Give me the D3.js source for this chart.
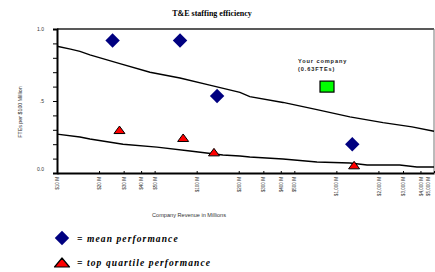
<!DOCTYPE html>
<html>
<head>
<meta charset="utf-8">
<script src="https://cdn.jsdelivr.net/npm/d3@7/dist/d3.min.js"></script>
<style>
  body { margin: 0; background: #fff; }
  svg { display: block; }
</style>
</head>
<body>
<script>
// revenue ticks ($M) shown on the log axis
const revenueTicks = [10, 20, 30, 40, 50, 100, 200, 300, 400, 500, 1000, 2000, 3000, 4000, 5000]
const ftesTicks = [0, 0.1, 0.2, 0.3, 0.4, 0.5, 0.6, 0.7, 0.8, 0.9, 1.0]
const ftesLabels = { 0: "0.0", 0.5: ".5", 1: "1.0" }

// mean performance (diamonds)
const meanRevenue = [25, 76, 140, 1300]
const meanFtes = [0.92, 0.92, 0.535, 0.20]

// top quartile performance (triangles)
const topRevenue = [28, 80, 133, 1340]
const topFtes = [0.30, 0.245, 0.145, 0.055]

// upper trend line
const upperRevenue = [10, 12.5, 14.6, 17.2, 28.2, 46.3, 75.9, 124, 204, 240, 415, 726, 1250, 2160, 3480, 5000]
const upperFtes = [0.88, 0.86, 0.845, 0.82, 0.76, 0.70, 0.66, 0.61, 0.56, 0.53, 0.49, 0.44, 0.39, 0.35, 0.32, 0.29]

// lower trend line
const lowerRevenue = [10, 14.6, 17.2, 29.7, 52, 89.6, 154, 204, 240, 415, 726, 1250, 1660, 2840, 3770, 5000]
const lowerFtes = [0.27, 0.25, 0.236, 0.20, 0.18, 0.153, 0.125, 0.118, 0.111, 0.097, 0.076, 0.069, 0.056, 0.056, 0.042, 0.042]

// your company marker
const yourRevenue = 857
const yourFtes = 0.60

const width = 435, height = 272
const marginLeft = 57, marginRight = 1, marginTop = 29, marginBottom = 99

const svg = d3.select("body").append("svg")
    .attr("width", width)
    .attr("height", height)
    .attr("viewBox", [0, 0, width, height])

const x = d3.scaleLog()
    .domain([10, 5000])
    .range([marginLeft, width - marginRight])

const y = d3.scaleLinear()
    .domain([0, 1])
    .range([height - marginBottom, marginTop])

// flat triangle, centred on its middle
const triPath = (w, h) => `M0,${-h / 2}L${w / 2},${h / 2}L${-w / 2},${h / 2}Z`

// title
svg.append("text")
    .attr("x", 212)
    .attr("y", 16)
    .attr("text-anchor", "middle")
    .attr("font-family", "Liberation Serif, Times New Roman, serif")
    .attr("font-weight", "bold")
    .attr("font-size", 8)
    .text("T&E staffing efficiency")

// frame: top and right
svg.append("line")
    .attr("x1", x(10)).attr("x2", x(5000))
    .attr("y1", y(1)).attr("y2", y(1))
    .attr("stroke", "#222").attr("stroke-width", 1.5)
svg.append("line")
    .attr("x1", x(5000)).attr("x2", x(5000))
    .attr("y1", y(1)).attr("y2", y(0))
    .attr("stroke", "#777").attr("stroke-width", 1)

// y axis
svg.append("g")
    .attr("transform", `translate(${marginLeft},0)`)
    .call(d3.axisLeft(y).tickValues(ftesTicks).tickSize(4).tickPadding(9)
        .tickFormat(d => ftesLabels[Math.round(d * 10) / 10] ?? ""))
    .call(g => g.select(".domain").attr("stroke-width", 2))
    .call(g => g.selectAll(".tick line").attr("stroke-width", 1))
    .call(g => g.selectAll("text")
        .attr("font-family", "Liberation Sans, Arial, sans-serif")
        .attr("font-size", 5)
        .attr("fill", "#333"))
    .call(g => g.selectAll(".tick").filter(d => d === 0).select("text").attr("dy", "-0.45em"))

svg.append("text")
    .attr("transform", `translate(22,${112}) rotate(-90)`)
    .attr("text-anchor", "middle")
    .attr("font-family", "Liberation Sans, Arial, sans-serif")
    .attr("font-size", 5.3)
    .attr("fill", "#333")
    .text("FTEs per $100 Million")

// x axis
const fmtRev = d => "$" + d3.format(",")(d) + " M"
svg.append("g")
    .attr("transform", `translate(0,${y(0)})`)
    .call(d3.axisBottom(x).tickValues(revenueTicks).tickSize(-2).tickSizeOuter(0).tickFormat(fmtRev))
    .call(g => g.select(".domain").attr("stroke-width", 2))
    .call(g => g.selectAll("text")
        .attr("font-family", "Liberation Sans, Arial, sans-serif")
        .attr("font-size", 4.6)
        .attr("fill", "#333")
        .attr("text-anchor", "end")
        .attr("transform", "rotate(-90)")
        .attr("x", -4)
        .attr("y", 0)
        .attr("dy", "0.35em"))
    .call(g => g.selectAll(".tick").filter(d => d === 5000).select("text").attr("dy", "-0.9em"))

svg.append("text")
    .attr("x", 189)
    .attr("y", 217)
    .attr("text-anchor", "middle")
    .attr("font-family", "Liberation Sans, Arial, sans-serif")
    .attr("font-size", 5.6)
    .attr("fill", "#333")
    .text("Company Revenue in Millions")

// trend lines
const line = d3.line().x(d => x(d[0])).y(d => y(d[1]))
const upper = upperRevenue.map((r, i) => [r, upperFtes[i]])
const lower = lowerRevenue.map((r, i) => [r, lowerFtes[i]])
svg.append("g")
    .attr("fill", "none")
    .attr("stroke", "#000")
    .attr("stroke-width", 1.4)
    .selectAll("path")
    .data([upper, lower])
    .join("path")
    .attr("d", line)

// markers
const diamond = d3.symbol().type(d3.symbolSquare).size(104)

svg.append("g")
    .selectAll("path")
    .data(meanRevenue.map((r, i) => [r, meanFtes[i]]))
    .join("path")
    .attr("d", diamond)
    .attr("transform", d => `translate(${x(d[0])},${y(d[1])}) rotate(45)`)
    .attr("fill", "#000080")

svg.append("g")
    .selectAll("path")
    .data(topRevenue.map((r, i) => [r, topFtes[i]]))
    .join("path")
    .attr("d", triPath(11, 7.5))
    .attr("transform", d => `translate(${x(d[0])},${y(d[1])})`)
    .attr("fill", "#ff0000")
    .attr("stroke", "#000")
    .attr("stroke-width", 1)
    .attr("stroke-linejoin", "round")

// your company
svg.append("rect")
    .attr("x", x(yourRevenue) - 7)
    .attr("y", y(yourFtes) - 5.5)
    .attr("width", 14)
    .attr("height", 11)
    .attr("fill", "#00ff00")
    .attr("stroke", "#000")
    .attr("stroke-width", 1.2)

const yc = svg.append("text")
    .attr("font-family", "Liberation Sans, Arial, sans-serif")
    .attr("font-size", 5.6)
    .attr("font-weight", "bold")
    .attr("letter-spacing", 0.9)
    .attr("fill", "#222")
yc.append("tspan").attr("x", 298).attr("y", 63).text("Your company")
yc.append("tspan").attr("x", 298).attr("y", 71).text(`(${(0.63).toFixed(2)}FTEs)`)

// legend
const legend = [
    { type: "mean", label: "= mean performance" },
    { type: "top", label: "= top quartile performance" },
]
const lg = svg.append("g")
    .selectAll("g")
    .data(legend)
    .join("g")
    .attr("transform", (d, i) => `translate(62,${238 + i * 24})`)

lg.append("path")
    .attr("d", d => d.type === "mean" ? diamond() : triPath(15, 9))
    .attr("transform", d => d.type === "mean" ? "rotate(45)" : "translate(0,0.5)")
    .attr("fill", d => d.type === "mean" ? "#000080" : "#ff0000")
    .attr("stroke", d => d.type === "mean" ? "none" : "#000")
    .attr("stroke-width", 1.2)
    .attr("stroke-linejoin", "round")

lg.append("text")
    .attr("x", 15)
    .attr("y", 3.5)
    .attr("font-family", "Liberation Serif, Times New Roman, serif")
    .attr("font-weight", "bold")
    .attr("font-style", "italic")
    .attr("font-size", 9.5)
    .attr("letter-spacing", 1.1)
    .text(d => d.label)
</script>
</body>
</html>
